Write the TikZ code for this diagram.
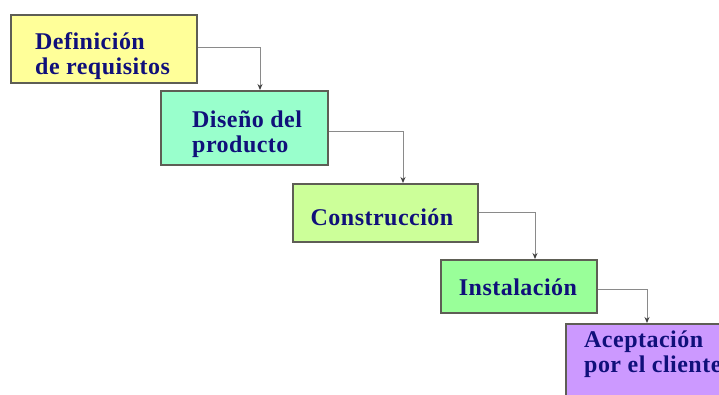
\documentclass[tikz,border=0pt]{standalone}
\usepackage{fontspec}
\setmainfont{Liberation Serif}[LetterSpace=2]
\usetikzlibrary{arrows.meta,calc}
\definecolor{navytext}{HTML}{10107A}
\definecolor{cyel}{HTML}{FFFF99}
\definecolor{cmint}{HTML}{99FFCC}
\definecolor{clgreen}{HTML}{CCFF99}
\definecolor{cgreen}{HTML}{99FF99}
\definecolor{cpurple}{HTML}{CC99FF}
\definecolor{bordc}{HTML}{5E5E55}
\definecolor{connc}{HTML}{8A8A8A}
\begin{document}
\begin{tikzpicture}[x=1pt,y=-1pt,
  stagebox/.style={draw=bordc,line width=1.6pt,inner sep=0pt,anchor=north west},
  stagetext/.style={text=navytext,font=\fontsize{24}{25.5}\selectfont\bfseries,inner sep=0pt,align=left},
  conn/.style={draw=connc,line width=0.9pt,-{Stealth[length=6pt,width=5pt,fill=black!75,color=black!75]}}]
\useasboundingbox (0,0) rectangle (719,394);
\clip (0,0) rectangle (719,394);
\fill[white] (0,0) rectangle (719,394);
% boxes
\node[stagebox,fill=cyel,minimum width=186pt,minimum height=68pt] (b1) at (10,14) {};
\node[stagebox,fill=cmint,minimum width=167pt,minimum height=74pt] (b2) at (160,90) {};
\node[stagebox,fill=clgreen,minimum width=185pt,minimum height=58pt] (b3) at (292,183) {};
\node[stagebox,fill=cgreen,minimum width=156pt,minimum height=53pt] (b4) at (440,259) {};
\node[stagebox,fill=cpurple,minimum width=180pt,minimum height=90pt] (b5) at (565,323) {};
% texts
\node[stagetext,anchor=west] (t1) at (35,56) {Definición\\de requisitos};
\node[stagetext,anchor=west] (t2) at (192,134) {Diseño del\\producto};
\node[stagetext] (t3) at (382,217) {Construcción};
\node[stagetext] (t4) at (518,287) {Instalación};
\node[stagetext,anchor=west] (t5) at (584,354) {Aceptación\\por el cliente};
% connectors
\draw[conn] ([yshift=1pt]b1.east) -| ($(b2.north west)+(100,0)$);
\draw[conn] ([yshift=-4pt]b2.east) -| ($(b3.north west)+(111,0)$);
\draw[conn] (b3.east) -| ($(b4.north west)+(95,0)$);
\draw[conn] ([yshift=-3pt]b4.east) -| ($(b5.north west)+(82,0)$);
\end{tikzpicture}
\end{document}
